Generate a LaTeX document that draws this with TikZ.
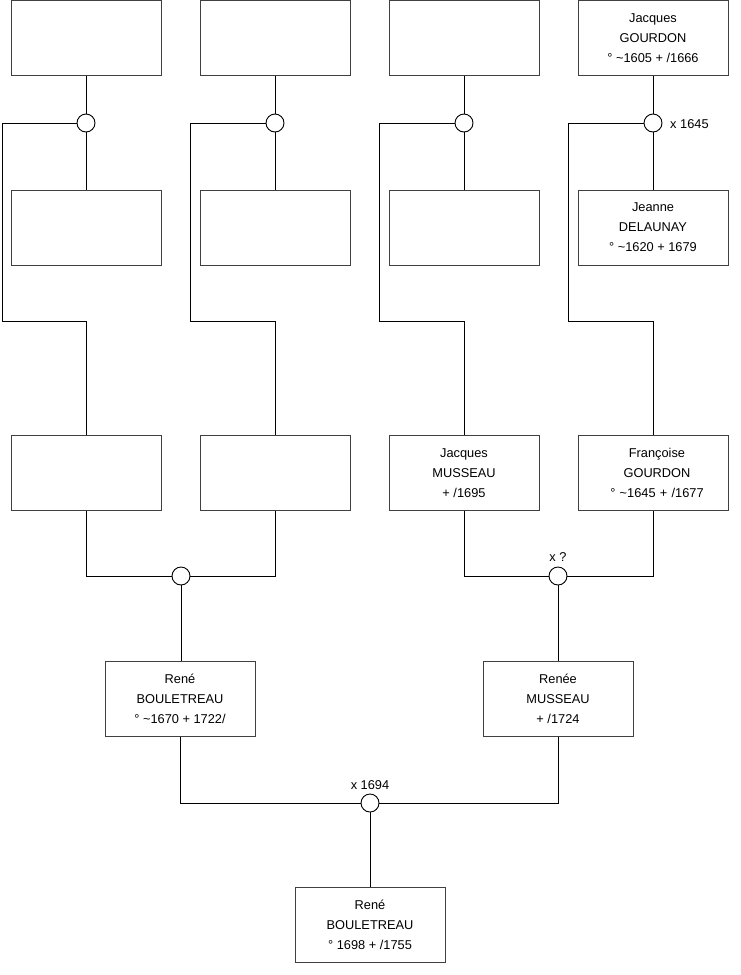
\documentclass[tikz,border=0pt]{standalone}
\usepackage{fontspec}
\setmainfont{Liberation Sans}
\begin{document}
\begin{tikzpicture}[x=1pt,y=-1pt,
  person/.style={draw=black!75, line width=0.9pt, minimum width=150pt, minimum height=75pt, inner sep=0pt, align=center, font=\fontsize{12.8}{20}\selectfont, fill=white},
  union/.style={draw=black, line width=0.9pt, circle, minimum size=18pt, inner sep=0pt, fill=white},
  link/.style={draw=black, line width=0.9pt},
  lbl/.style={font=\fontsize{12.8}{14}\selectfont, inner sep=0pt}]
\useasboundingbox (0,0) rectangle (740,975);
% row 1
\node[person] (a1) at (86,38) {};
\node[person] (b1) at (275,38) {};
\node[person] (c1) at (464,38) {};
\node[person] (d1) at (653,38) {Jacques\\GOURDON\\° \textasciitilde1605 + /1666};
% row 2
\node[person] (a2) at (86,227.5) {};
\node[person] (b2) at (275,227.5) {};
\node[person] (c2) at (464,227.5) {};
\node[person] (d2) at (653,227.5) {Jeanne\\DELAUNAY\\° \textasciitilde1620 + 1679};
% row 3
\node[person] (a3) at (86,473) {};
\node[person] (b3) at (275,473) {};
\node[person] (c3) at (464,473) {Jacques\\MUSSEAU\\+ /1695};
\node[person, text width=150pt, align=center] (d3) at (653,473) {\hspace*{8pt}Françoise\\\hspace*{8pt}GOURDON\\\hspace*{8pt}° \textasciitilde1645 + /1677};
% row 4
\node[person] (l4) at (180,699) {René\\BOULETREAU\\° \textasciitilde1670 + 1722/};
\node[person] (r4) at (558,699) {Renée\\MUSSEAU\\+ /1724};
% row 5
\node[person] (z5) at (370,925) {René\\BOULETREAU\\° 1698 + /1755};
% unions
\node[union] (uA) at (86,123) {};
\node[union] (uB) at (275,123) {};
\node[union] (uC) at (464,123) {};
\node[union] (uD) at (653,123) {};
\node[union] (uL) at (181,576) {};
\node[union] (uR) at (558,576) {};
\node[union] (uZ) at (370,803) {};
% labels
\node[lbl, anchor=west] (tD) at (670,124) {x 1645};
\node[lbl] (tR) at (558,557) {x ?};
\node[lbl] (tZ) at (370,785) {x 1694};
% corner coordinates
\coordinate (kA1) at (2,123);   \coordinate (kA2) at (2,321);   \coordinate (kA3) at (86,321);
\coordinate (kB1) at (190,123); \coordinate (kB2) at (190,321); \coordinate (kB3) at (275,321);
\coordinate (kC1) at (379,123); \coordinate (kC2) at (379,321); \coordinate (kC3) at (464,321);
\coordinate (kD1) at (568,123); \coordinate (kD2) at (568,321); \coordinate (kD3) at (653,321);
% top connectors
\foreach \u/\p/\m in {uA/a1/a2, uB/b1/b2, uC/c1/c2, uD/d1/d2} {
  \draw[link] (\u.north) -- (\p.south);
  \draw[link] (\u.south) -- (\m.north);
}
\draw[link] (uA.west) -- (kA1) -- (kA2) -- (kA3) -- (a3.north);
\draw[link] (uB.west) -- (kB1) -- (kB2) -- (kB3) -- (b3.north);
\draw[link] (uC.west) -- (kC1) -- (kC2) -- (kC3) -- (c3.north);
\draw[link] (uD.west) -- (kD1) -- (kD2) -- (kD3) -- (d3.north);
% row 3 connectors
\draw[link] (a3.south) |- (uL.west);
\draw[link] (b3.south) |- (uL.east);
\draw[link] (uL.south) -- (uL.south |- l4.north);
\draw[link] (c3.south) |- (uR.west);
\draw[link] (d3.south) |- (uR.east);
\draw[link] (uR.south) -- (r4.north);
% row 4 connectors
\draw[link] (l4.south) |- (uZ.west);
\draw[link] (r4.south) |- (uZ.east);
\draw[link] (uZ.south) -- (z5.north);
\end{tikzpicture}
\end{document}
